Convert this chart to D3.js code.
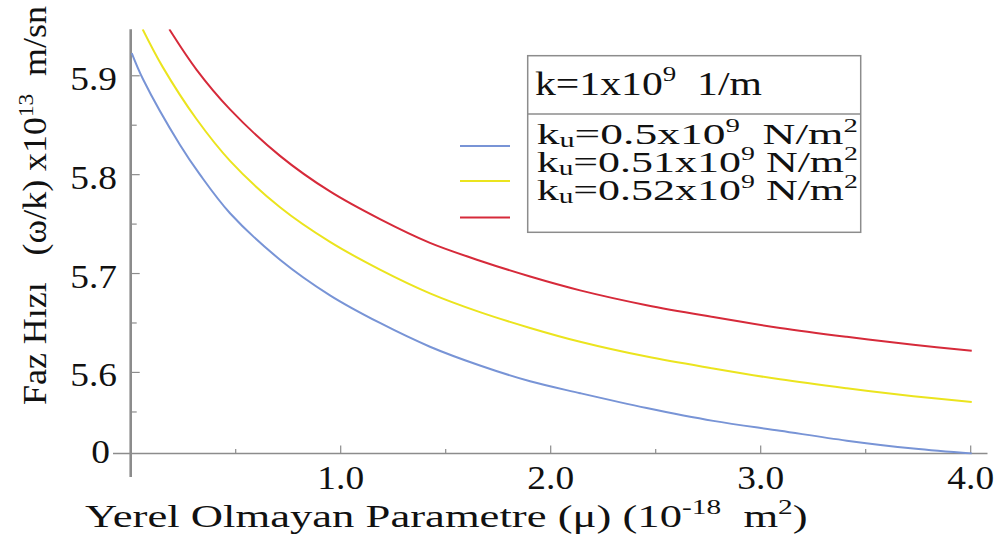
<!DOCTYPE html>
<html><head><meta charset="utf-8">
<script src="https://cdn.jsdelivr.net/npm/d3@7"></script>
<style>body{margin:0;background:#fff}svg{display:block}text{font-family:"Liberation Serif","Times New Roman",serif;fill:#111}</style>
</head><body>
<script>
// ---- data ----
const seriesNames = ["ku=0.5", "ku=0.51", "ku=0.52"];
const blueX   = [0.005, 0.06, 0.235, 0.33, 0.473, 0.711, 0.949, 1.187, 1.425, 1.663, 1.902, 2.14, 2.457, 2.774, 3.092, 3.41, 3.727, 4.005];
const blueY   = [5.923, 5.896, 5.830, 5.800, 5.761, 5.714, 5.678, 5.650, 5.626, 5.607, 5.591, 5.579, 5.564, 5.551, 5.541, 5.531, 5.523, 5.518];
const yellowX = [0.057, 0.152, 0.314, 0.473, 0.711, 0.949, 1.187, 1.425, 1.663, 1.902, 2.14, 2.457, 2.774, 3.092, 3.41, 3.727, 4.005];
const yellowY = [5.947, 5.909, 5.856, 5.814, 5.767, 5.732, 5.704, 5.680, 5.661, 5.645, 5.631, 5.616, 5.604, 5.593, 5.584, 5.576, 5.570];
const redX    = [0.184, 0.314, 0.473, 0.711, 0.949, 1.187, 1.425, 1.663, 1.902, 2.14, 2.457, 2.774, 3.092, 3.41, 3.727, 4.005];
const redY    = [5.947, 5.906, 5.866, 5.819, 5.783, 5.755, 5.731, 5.713, 5.697, 5.683, 5.668, 5.656, 5.645, 5.636, 5.628, 5.622];
const xMajorTicks = [1, 2, 3, 4];
const xMajorLabels = ["1.0", "2.0", "3.0", "4.0"];
const xMinorTicks = [0.5, 1.5, 2.5, 3.5];
const yMajorTicks = [5.6, 5.7, 5.8, 5.9];
const yMajorLabels = ["5.6", "5.7", "5.8", "5.9"];
const yMinorTicks = [5.56, 5.65, 5.75, 5.85];
const yOriginValue = 5.518;
const yOriginLabel = "0";
const colors = ["#7894d6", "#ebe41e", "#d62a3a"];

const W = 995, H = 546;
const svg = d3.select("body").append("svg").attr("width", W).attr("height", H);
svg.append("rect").attr("width", W).attr("height", H).attr("fill", "#fff");

const x = d3.scaleLinear().domain([0, 4.08]).range([130.7, 987.5]);
const y = d3.scaleLinear().domain([yOriginValue, 5.947]).range([453.5, 29.3]);

svg.append("clipPath").attr("id", "clip").append("rect")
  .attr("x", x(0)).attr("y", y(5.947)).attr("width", x(4.08) - x(0)).attr("height", y(yOriginValue) - y(5.947) + 1);

const axisColor = "#8c8c8c";
svg.append("line").attr("x1", 113).attr("x2", x(4.08)).attr("y1", y(yOriginValue)).attr("y2", y(yOriginValue))
  .attr("stroke", axisColor).attr("stroke-width", 1.6);
svg.append("line").attr("x1", x(0)).attr("x2", x(0)).attr("y1", y(5.947)).attr("y2", 477)
  .attr("stroke", axisColor).attr("stroke-width", 2.6);

const g = svg.append("g");
g.selectAll(".xt").data(xMajorTicks).join("line").attr("x1", d => x(d)).attr("x2", d => x(d))
  .attr("y1", y(yOriginValue)).attr("y2", y(yOriginValue) - 8).attr("stroke", axisColor).attr("stroke-width", 1.2);
g.selectAll(".xm").data(xMinorTicks).join("line").attr("x1", d => x(d)).attr("x2", d => x(d))
  .attr("y1", y(yOriginValue)).attr("y2", y(yOriginValue) - 4.5).attr("stroke", axisColor).attr("stroke-width", 1.2);
g.selectAll(".yt").data(yMajorTicks).join("line").attr("x1", x(0)).attr("x2", x(0) + 9)
  .attr("y1", d => y(d)).attr("y2", d => y(d)).attr("stroke", axisColor).attr("stroke-width", 1.2);
g.selectAll(".ym").data(yMinorTicks).join("line").attr("x1", x(0)).attr("x2", x(0) + 6)
  .attr("y1", d => y(d)).attr("y2", d => y(d)).attr("stroke", axisColor).attr("stroke-width", 1.2);

const fs = 34, sx = 1.1;
xMajorTicks.forEach((d, i) => {
  svg.append("text").attr("text-anchor", "middle").attr("font-size", fs)
    .attr("transform", `translate(${x(d)},489) scale(${sx},1)`).text(xMajorLabels[i]);
});
yMajorTicks.forEach((d, i) => {
  svg.append("text").attr("text-anchor", "end").attr("font-size", fs)
    .attr("transform", `translate(117,${y(d) + 14}) scale(${sx},1)`).text(yMajorLabels[i]);
});
svg.append("text").attr("text-anchor", "end").attr("font-size", fs)
  .attr("transform", `translate(110,${y(yOriginValue) + 9}) scale(${sx},1)`).text(yOriginLabel);

const line = d3.line().x(d => x(d[0])).y(d => y(d[1])).curve(d3.curveCatmullRom.alpha(0.5));
const series = [d3.zip(blueX, blueY), d3.zip(yellowX, yellowY), d3.zip(redX, redY)];
svg.append("g").attr("clip-path", "url(#clip)").selectAll("path").data(series).join("path")
  .attr("d", line).attr("fill", "none").attr("stroke", (d, i) => colors[i]).attr("stroke-width", 2);

function fitH(t, x0, x1, base) {
  t.attr("text-anchor", "start");
  const w = t.node().getBBox().width;
  t.attr("transform", `translate(${x0},${base}) scale(${(x1 - x0) / w},1)`);
}
function fitV(t, xb, y0, y1) {
  t.attr("text-anchor", "start");
  const w = t.node().getBBox().width;
  t.attr("transform", `translate(${xb},${y0}) rotate(-90) scale(${(y0 - y1) / w},1)`);
}

const xt = svg.append("text").attr("font-size", 32);
xt.append("tspan").text("Yerel Olmayan Parametre (\u03bc) (10");
xt.append("tspan").attr("font-size", 21).attr("dy", -13).text("-18");
xt.append("tspan").attr("dy", 13).text("\u00a0\u00a0m");
xt.append("tspan").attr("font-size", 21).attr("dy", -13).text("2");
xt.append("tspan").attr("dy", 13).text(")");
fitH(xt, 85, 808, 527);

const yt = svg.append("text").attr("font-size", 34);
yt.append("tspan").text("Faz H\u0131z\u0131\u00a0\u00a0\u00a0(\u03c9/k) x10");
yt.append("tspan").attr("font-size", 22).attr("dy", -13).text("13");
yt.append("tspan").attr("dy", 13).text("\u00a0\u00a0m/sn");
fitV(yt, 46, 405, 6);

svg.append("rect").attr("x", 527.7).attr("y", 55.7).attr("width", 333).attr("height", 176.6)
  .attr("fill", "none").attr("stroke", axisColor).attr("stroke-width", 1.5);
svg.append("line").attr("x1", 527.7).attr("x2", 860.7).attr("y1", 114).attr("y2", 114)
  .attr("stroke", axisColor).attr("stroke-width", 1.5);

const kt = svg.append("text").attr("font-size", 34);
kt.append("tspan").text("k=1x10");
kt.append("tspan").attr("font-size", 22).attr("dy", -14).text("9");
kt.append("tspan").attr("dy", 14).text("\u00a0\u00a01/m");
fitH(kt, 535, 762, 95);

const kuVals = ["0.5", "0.51", "0.52"];
const kuSpace = ["\u00a0\u00a0", "\u00a0", "\u00a0"];
const kuBase = [144, 172, 200];
const sampleY = [146, 181, 217.5];
kuVals.forEach((v, i) => {
  const t = svg.append("text").attr("font-size", 30);
  t.append("tspan").text("k");
  t.append("tspan").attr("font-size", 20).attr("dy", 3).text("u");
  t.append("tspan").attr("dy", -3).text("=" + v + "x10");
  t.append("tspan").attr("font-size", 19).attr("dy", -12).text("9");
  t.append("tspan").attr("dy", 12).text(kuSpace[i] + "N/m");
  t.append("tspan").attr("font-size", 19).attr("dy", -12).text("2");
  fitH(t, 536.7, 858, kuBase[i]);
  svg.append("line").attr("x1", 460).attr("x2", 510).attr("y1", sampleY[i]).attr("y2", sampleY[i])
    .attr("stroke", colors[i]).attr("stroke-width", 2);
});
</script>
</body></html>
